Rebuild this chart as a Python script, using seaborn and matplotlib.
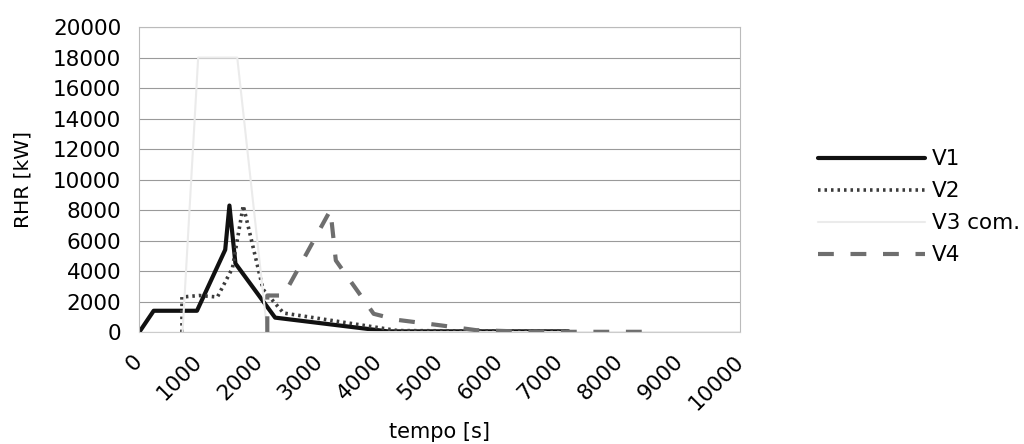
import numpy as np
import pandas as pd
import matplotlib
matplotlib.use("Agg")
import matplotlib.pyplot as plt
import seaborn as sns

sns.set_theme(style="white")
plt.rcParams['font.family'] = ['DejaVu Sans']

# ─── Data ───────────────────────────────────────────────────────────────────
v1_t   = [0, 240, 960, 1430, 1500, 1600, 2260, 4130, 7140]
v1_rhr = [0, 1400, 1400, 5400, 8300, 4500, 950, 50, 50]

v2_t   = [710, 710, 1000, 1300, 1550, 1730, 2060, 2400, 4300, 7100]
v2_rhr = [0, 2300, 2400, 2300, 4200, 8300, 2800, 1250, 100, 50]

v3_t   = [720, 980, 1630, 2130, 10000]
v3_rhr = [0, 18000, 18000, 0, 0]

v4_t   = [2130, 2130, 2400, 3180, 3270, 3900, 4300, 5000, 5600, 6500, 8400]
v4_rhr = [0, 2400, 2400, 8000, 4700, 1200, 800, 450, 130, 20, 20]

series = [
    ("V1", v1_t, v1_rhr, "#111111", "-", 3.0),
    ("V2", v2_t, v2_rhr, "#3c3c3c", (0, (0.7, 1.1)), 2.6),
    ("V3 com.", v3_t, v3_rhr, "#ebebeb", "-", 1.5),
    ("V4", v4_t, v4_rhr, "#6e6e6e", (0, (3.8, 4.0)), 3.0),
]

fig = plt.figure(figsize=(10.24, 4.44), dpi=100)
ax = fig.add_axes([0.136, 0.252, 0.587, 0.687])

for name, t, r, col, ls, lw in series:
    df = pd.DataFrame({"t": t, "rhr": r})
    sns.lineplot(data=df, x="t", y="rhr", ax=ax, sort=False, estimator=None,
                 color=col, linestyle=ls, linewidth=lw, label=name)

ax.set_xlim(0, 10000)
ax.set_ylim(0, 20000)
ax.set_xticks(np.arange(0, 10001, 1000))
ax.set_yticks(np.arange(0, 20001, 2000))
ax.tick_params(axis="x", labelsize=15.5, labelcolor="black", length=0, pad=19)
ax.tick_params(axis="y", labelsize=15.5, labelcolor="black", length=3,
               color="#bbbbbb", width=0.8, direction="out", pad=10)
for lab in ax.get_xticklabels():
    lab.set_rotation(45)
    lab.set_ha("right")
    lab.set_va("center")
    lab.set_rotation_mode("anchor")
ax.yaxis.grid(True, color="#9a9a9a", linewidth=0.8)
ax.xaxis.grid(False)
for s in ax.spines.values():
    s.set_color("#bbbbbb")
    s.set_linewidth(0.8)
ax.spines["bottom"].set_color("#cccccc")

ax.set_xlabel("tempo [s]", fontsize=15, color="black", va="center")
ax.xaxis.set_label_coords(0.5, -0.328)
ax.set_ylabel("RHR [kW]", fontsize=14.5, color="black")
ax.yaxis.set_label_coords(-0.178, 0.5)

handles, labels = ax.get_legend_handles_labels()
ax.get_legend().remove()
leg = fig.legend(handles, labels, loc="center left", bbox_to_anchor=(0.79, 0.533),
                 frameon=False, fontsize=15.5, handlelength=5.0, handletextpad=0.33,
                 labelspacing=0.56, borderaxespad=0)
for txt in leg.get_texts():
    txt.set_color("black")

fig.savefig("out.png", dpi=100)
